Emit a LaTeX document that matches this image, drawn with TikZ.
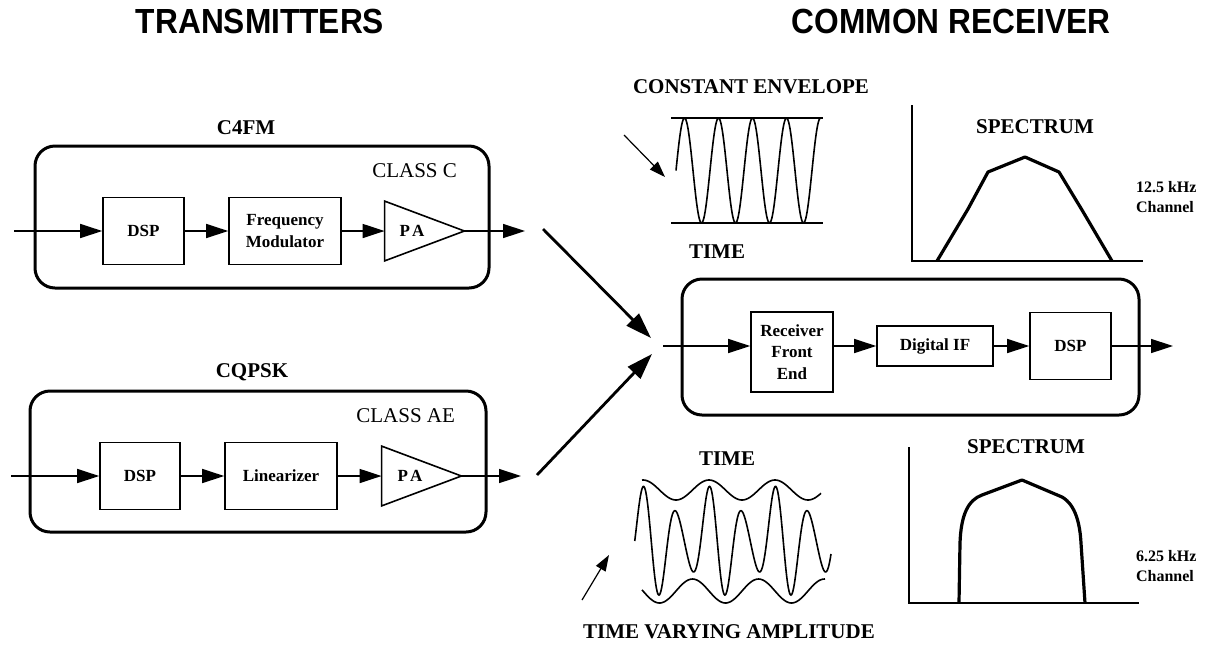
\documentclass[tikz,border=0pt]{standalone}
\usepackage{fontspec}
\setmainfont{Liberation Serif}
\newfontfamily\headfont{Liberation Sans}
\usetikzlibrary{arrows.meta}

\begin{document}
\begin{tikzpicture}[x=0.5pt,y=-0.5pt,
    blk/.style={draw,line width=0.8pt,inner sep=1pt,align=center,font=\fontsize{8.5}{11}\selectfont\bfseries},
    amp/.style={inner sep=0pt,minimum width=39.5pt,minimum height=29.5pt},
    amptext/.style={font=\fontsize{8.5}{10}\selectfont\bfseries},
    sig/.style={line width=0.75pt,-{Triangle[length=11pt,width=7pt]}},
    big/.style={line width=1.4pt,-{Triangle[length=13pt,width=8.5pt]}},
    thinarrow/.style={line width=0.6pt,-{Triangle[length=8pt,width=5.5pt]}},
    group/.style={line width=1.5pt,rounded corners=10pt},
    head/.style={font=\headfont\fontsize{16}{18}\selectfont\bfseries},
    lbl/.style={font=\fontsize{10.5}{12}\selectfont\bfseries},
    cls/.style={anchor=east,font=\fontsize{10.5}{12}\selectfont},
    chan/.style={anchor=west,align=left,font=\fontsize{8}{10}\selectfont\bfseries},
    wave/.style={line width=0.8pt},
    curve/.style={line width=1.6pt,line join=round}]
  \useasboundingbox (0,0) rectangle (1211,644);

  \node[head] (ttx) at (260,21) {\scalebox{0.99}[1.09]{TRANSMITTERS}};
  \node[head] (trx) at (951,21) {\scalebox{0.99}[1.09]{COMMON RECEIVER}};

  % C4FM transmitter
  \draw[group] (35,146) rectangle (489,288);
  \node[lbl] (c4fm) at (246,128) {C4FM};
  \node[cls] (clsc) at (464,171) {CLASS C};
  \coordinate (inA) at (14,231);
  \coordinate (outA) at (525,231);
  \node[blk,minimum width=40.5pt,minimum height=33.5pt] (dspA) at (143.5,231) {DSP};
  \node[blk,minimum width=56pt,minimum height=33.5pt] (fm) at (285,231) {Frequency\\Modulator};
  \node[amp] (paA) at (424.5,231) {};
  \draw[line width=0.8pt] (paA.north west) -- (paA.east) -- (paA.south west) -- cycle;
  \node[amptext] (paAtxt) at (412,231) {P\kern1pt A};
  \draw[sig] (inA) -- (dspA);
  \draw[sig] (dspA) -- (fm);
  \draw[sig] (fm) -- (paA.west);
  \draw[sig] (paA.east) -- (outA);

  % CQPSK transmitter
  \draw[group] (30,391) rectangle (486,532);
  \node[lbl] (cqpsk) at (252,372) {CQPSK};
  \node[cls] (clsae) at (462,416) {CLASS AE};
  \coordinate (inB) at (11,476);
  \coordinate (outB) at (521,476);
  \node[blk,minimum width=40pt,minimum height=33.5pt] (dspB) at (140,476) {DSP};
  \node[blk,minimum width=56pt,minimum height=33.5pt] (lin) at (281,476) {Linearizer};
  \node[amp] (paB) at (421.5,476) {};
  \draw[line width=0.8pt] (paB.north west) -- (paB.east) -- (paB.south west) -- cycle;
  \node[amptext] (paBtxt) at (410,476) {P\kern1pt A};
  \draw[sig] (inB) -- (dspB);
  \draw[sig] (dspB) -- (lin);
  \draw[sig] (lin) -- (paB.west);
  \draw[sig] (paB.east) -- (outB);

  % common receiver
  \draw[group] (682,279) rectangle (1139,415);
  \coordinate (inC) at (663,346);
  \coordinate (outC) at (1173,346);
  \node[blk,minimum width=41pt,minimum height=40pt,font=\fontsize{8.5}{10.75}\selectfont\bfseries] (rfe) at (792,352) {Receiver\\Front\\End};
  \node[blk,minimum width=58pt,minimum height=20pt] (dif) at (935,346) {Digital IF};
  \node[blk,minimum width=40.5pt,minimum height=33.5pt] (dspC) at (1070.5,346) {DSP};
  \draw[sig] (inC) -- (inC -| rfe.west);
  \draw[sig] (rfe.east |- inC) -- (dif);
  \draw[sig] (dif) -- (dspC);
  \draw[sig] (dspC) -- (outC);

  \coordinate (fromA) at (543,229);
  \coordinate (toA) at (651,338);
  \coordinate (fromB) at (537,475);
  \coordinate (toB) at (652,354);
  \draw[big] (fromA) -- (toA);
  \draw[big] (fromB) -- (toB);

  % constant envelope
  \node[lbl] (cenv) at (751,87) {CONSTANT ENVELOPE};
  \draw[line width=1pt] (671,118) -- (823,118);
  \draw[line width=1pt] (671,223) -- (823,223);
  \draw[wave] plot[domain=676:821,samples=220,smooth] (\x,{170.5-52.5*sin(360/34*(\x-676))});
  \coordinate (ceTail) at (624,135);
  \coordinate (ceTip) at (665,177);
  \draw[thinarrow] (ceTail) -- (ceTip);
  \node[lbl] (timeA) at (717,252) {TIME};

  \draw[line width=0.8pt] (912,105) -- (912,261) -- (1143,261);
  \node[lbl] (specA) at (1035,127) {SPECTRUM};
  \draw[curve] (937,261) -- (968,209) -- (988,172) -- (1025,157) -- (1059,172) -- (1082,210) -- (1112,261);
  \node[chan] (chA) at (1129,197) {12.5 kHz\\Channel};

  % time varying amplitude
  \node[lbl] (timeB) at (727,459) {TIME};
  \draw[wave] plot[domain=642:821,samples=120,smooth] (\x,{490-10*cos(360/66*(\x-643))});
  \draw[wave] plot[domain=642:825,samples=120,smooth] (\x,{591+12*cos(360/66*(\x-659.5))});
  \draw[wave] plot[domain=634.75:831,samples=300,smooth] (\x,{541-(42+17*cos(360/66*(\x-651)))*sin(360/33*(\x-634.75))});
  \coordinate (tvTail) at (582,600);
  \coordinate (tvTip) at (609,555);
  \draw[thinarrow] (tvTail) -- (tvTip);
  \node[lbl] (tva) at (729,632) {TIME VARYING AMPLITUDE};

  \draw[line width=0.8pt] (909,447) -- (909,603) -- (1139,603);
  \node[lbl] (specB) at (1026,447) {SPECTRUM};
  \draw[curve] (959,603) -- (960,543) .. controls (961,515) and (968,500) .. (982,495) -- (1022,480) -- (1062,497) .. controls (1076,505) and (1080,525) .. (1081,543) -- (1085,603);
  \node[chan] (chB) at (1129,566) {6.25 kHz\\Channel};
\end{tikzpicture}
\end{document}
